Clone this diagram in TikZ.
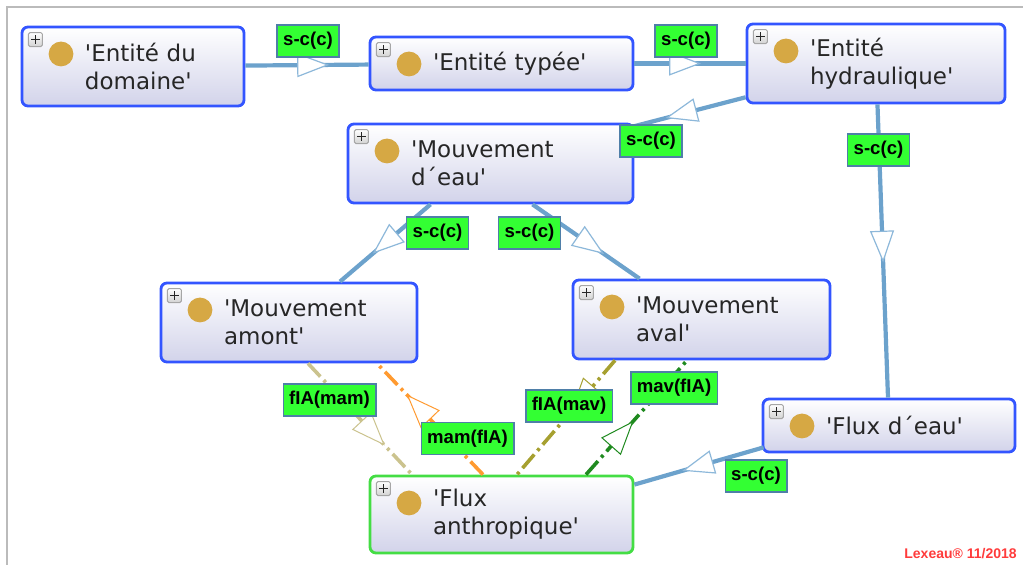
\documentclass[tikz,border=0pt]{standalone}
\usepackage{fontspec}
\usetikzlibrary{arrows.meta,decorations.markings}
\newfontfamily\classfont{DejaVu Sans}
\newfontfamily\relfont{Liberation Sans}
\definecolor{bordblue}{HTML}{3355FF}
\definecolor{bordgreen}{HTML}{44DD44}
\definecolor{boxbottom}{HTML}{D2D3EA}
\definecolor{dotgold}{HTML}{D6A844}
\definecolor{edgeblue}{HTML}{6CA2CC}
\definecolor{tipblue}{HTML}{8DB8DA}
\definecolor{relgreen}{HTML}{33FF33}
\definecolor{relbord}{HTML}{4F7FA8}
\definecolor{mamkhaki}{HTML}{CBC38E}
\definecolor{mamorange}{HTML}{FF9A30}
\definecolor{mavolive}{HTML}{A6A030}
\definecolor{mavgreen}{HTML}{1F8A1F}
\definecolor{framegray}{HTML}{BBBBBB}
\definecolor{lexred}{HTML}{FF3B3B}

\tikzset{
  classe/.style 2 args={draw=bordblue, line width=1.4pt, rounded corners=3pt,
    top color=white, bottom color=boxbottom, text=black!85,
    text width=#1-8pt, minimum height=#2, inner xsep=4pt, inner ysep=2pt, align=left,
    font=\classfont\fontsize{11.5pt}{14pt}\selectfont,
    execute at begin node={\leftskip=27.5pt},
    path picture={
      \fill[dotgold] ([shift={(19.5pt,-13.5pt)}]path picture bounding box.north west) circle (6.2pt);
      \draw[gray!70, line width=0.5pt, top color=white, bottom color=gray!35, rounded corners=0.8pt]
        ([shift={(3.2pt,-2.8pt)}]path picture bounding box.north west) rectangle ++(7pt,-7pt);
      \draw[black!85, line width=0.9pt]
        ([shift={(4.6pt,-6.3pt)}]path picture bounding box.north west) -- ++(4.2pt,0pt)
        ([shift={(6.7pt,-4.2pt)}]path picture bounding box.north west) -- ++(0pt,-4.2pt);
    }},
  sc/.style={draw=edgeblue, line width=2.1pt, postaction={decorate},
    decoration={markings, mark=at position #1 with {\arrow{Triangle[length=16pt, width=12pt, color=tipblue, fill=white, line width=0.6pt]}}}},
  rel/.style 2 args={draw=#1, line width=1.8pt, dash pattern=on 9pt off 2.5pt on 1.5pt off 2.5pt,
    postaction={decorate},
    decoration={markings, mark=at position #2 with {\arrow{Triangle[length=17pt, width=13pt, color=#1, fill=white, line width=0.5pt]}}}},
  lbl/.style={draw=relbord, fill=relgreen, line width=0.7pt, inner xsep=3pt, minimum height=15pt,
    text=black, text height=7pt, text depth=2.2pt,
    font=\relfont\bfseries\fontsize{9.3pt}{10pt}\selectfont},
  signature/.style={text=lexred, inner sep=0pt, font=\relfont\bfseries\fontsize{7pt}{8pt}\selectfont}
}

\begin{document}
\begin{tikzpicture}[x=0.5pt, y=-0.5pt]
\useasboundingbox (0,0) rectangle (1023,565);
\draw[framegray, line width=1pt] (1023,7) -- (7,7) -- (7,565);

\node[classe={111pt}{39.5pt}] (ent_dom) at (133,66.5) {'Entité du\\domaine'};
\node[classe={131.5pt}{26.5pt}] (ent_typ) at (501.5,63.5) {'Entité typée'};
\node[classe={129pt}{39.5pt}] (ent_hyd) at (876,63.5) {'Entité\\hydraulique'};
\node[classe={142.5pt}{39.5pt}] (mvt_eau) at (490.5,163.5) {'Mouvement\\d´eau'};
\node[classe={128pt}{39.5pt}] (mvt_amont) at (289,322.5) {'Mouvement\\amont'};
\node[classe={128.5pt}{39.5pt}] (mvt_aval) at (701.5,319.5) {'Mouvement\\aval'};
\node[classe={126pt}{26.5pt}] (flux_eau) at (889,425.5) {'Flux d´eau'};
\node[classe={131.5pt}{38.5pt}, draw=bordgreen] (flux_anthr) at (501.5,514.5) {'Flux\\anthropique'};

% sous-classes
\draw[sc=0.68] (ent_dom) -- (ent_typ);
\draw[sc=0.6] (ent_typ) -- (ent_hyd);
\draw[sc=0.72] (ent_hyd) -- (mvt_eau);
\draw[sc=0.54] (ent_hyd) -- (flux_eau);
\draw[sc=0.64] ([xshift=-30pt]mvt_eau.south) -- ([xshift=25.5pt]mvt_amont.north);
\draw[sc=0.67] ([xshift=21pt]mvt_eau.south) -- ([xshift=-31pt]mvt_aval.north);
\draw[sc=0.63] ([xshift=1pt,yshift=3pt]flux_eau.south west) -- ([yshift=-5pt]flux_anthr.north east);

% relations
\draw[rel={mamkhaki}{0.74}] ([xshift=9.5pt]mvt_amont.south) -- ([xshift=-44.75pt]flux_anthr.north);
\draw[rel={mamorange}{0.72}] ([xshift=-9.25pt]flux_anthr.north) -- ([xshift=44pt]mvt_amont.south);
\draw[rel={mavolive}{0.45}] ([xshift=-43.25pt]mvt_aval.south) -- ([xshift=7.75pt]flux_anthr.north);
\draw[rel={mavgreen}{0.47}] ([xshift=42.25pt]flux_anthr.north) -- ([xshift=-7.25pt]mvt_aval.south);

\node[lbl] (l_dom) at (308,41) {s-c(c)};
\node[lbl] (l_typ) at (686,41) {s-c(c)};
\node[lbl] (l_eau) at (651,141) {s-c(c)};
\node[lbl] (l_flux) at (878.5,150) {s-c(c)};
\node[lbl] (l_amont) at (437.5,233) {s-c(c)};
\node[lbl] (l_aval) at (529.5,233) {s-c(c)};
\node[lbl] (l_anthr) at (756,476) {s-c(c)};
\node[lbl] (l_fia_mam) at (329.5,400) {fIA(mam)};
\node[lbl] (l_mam_fia) at (467.5,438.5) {mam(fIA)};
\node[lbl] (l_fia_mav) at (569,406) {fIA(mav)};
\node[lbl] (l_mav_fia) at (674,388) {mav(fIA)};

\node[signature, anchor=base west] (lexeau) at (904,559) {Lexeau® 11/2018};
\end{tikzpicture}
\end{document}
